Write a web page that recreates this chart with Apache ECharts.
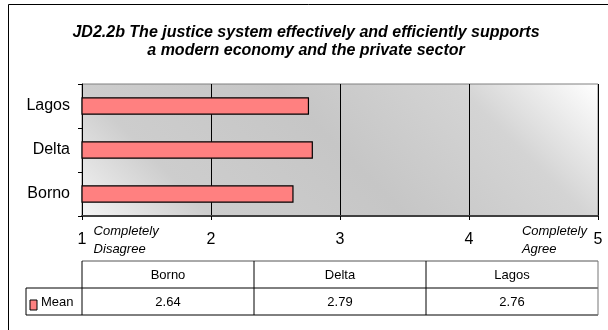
<!DOCTYPE html>
<html><head><meta charset="utf-8">
<script src="https://cdn.jsdelivr.net/npm/echarts@6/dist/echarts.min.js"></script>
<style>html,body{margin:0;padding:0;background:#fff}#c{width:608px;height:330px}</style>
</head><body><div id="c"></div>
<script>
const titleText = 'JD2.2b The justice system effectively and efficiently supports\na modern economy and the private sector';
const categories = ['Borno', 'Delta', 'Lagos'];
const seriesName = 'Mean';
const meanValues = [2.64, 2.79, 2.76];
const xTicks = [1, 2, 3, 4, 5];
const scaleEnds = ['Completely\nDisagree', 'Completely\nAgree'];

const chart = echarts.init(document.getElementById('c'), null, {renderer: 'canvas'});
const F = '"Liberation Sans", Arial, sans-serif';
const G = {left: 82, right: 10, top: 84, bottom: 114};
const option = {
  animation: false,
  backgroundColor: '#fff',
  title: {
    text: titleText, left: 301, top: 19, textAlign: 'center',
    textStyle: {fontFamily: F, fontSize: 16, fontWeight: 'bold', fontStyle: 'italic', color: '#000', lineHeight: 18}
  },
  grid: {
    left: G.left, right: G.right, top: G.top, bottom: G.bottom, show: true,
    borderColor: '#808080', borderWidth: 1,
    backgroundColor: new echarts.graphic.LinearGradient(82, 216, 406, -108, [
      {offset: 0, color: '#f4f4f4'}, {offset: 0.2, color: '#cdcdcd'}, {offset: 0.5, color: '#c6c6c6'},
      {offset: 0.78, color: '#d4d4d4'}, {offset: 1, color: '#ffffff'}
    ], true)
  },
  xAxis: {
    type: 'value', min: 1, max: 5, interval: 1,
    axisLine: {show: true, lineStyle: {color: '#404040', width: 2}},
    axisTick: {show: true, length: 4, lineStyle: {color: '#000'}},
    axisLabel: {fontFamily: F, fontSize: 16, color: '#000', margin: 16,
      formatter: v => xTicks.includes(v) ? String(v) : ''},
    splitLine: {show: true, lineStyle: {color: '#000', width: 1}}
  },
  yAxis: {
    type: 'category', data: categories,
    axisLine: {show: true, lineStyle: {color: '#000'}},
    axisTick: {show: true, length: 4, lineStyle: {color: '#000'}},
    axisLabel: {fontFamily: F, fontSize: 16, color: '#000', margin: 12}
  },
  series: [{
    name: seriesName, type: 'bar', data: meanValues, barWidth: '40%',
    itemStyle: {color: '#ff8080', borderColor: '#000', borderWidth: 1.2}
  }]
};
chart.setOption(option);

// table and scale-end labels
const els = [];
const p1 = chart.convertToPixel({xAxisIndex: 0}, xTicks[0]);
const p5 = chart.convertToPixel({xAxisIndex: 0}, xTicks[xTicks.length - 1]);
const endX = [chart.convertToPixel({xAxisIndex: 0}, 1.09), chart.convertToPixel({xAxisIndex: 0}, 4.41)];
scaleEnds.forEach((t, i) => {
  els.push({type: 'text', left: endX[i], top: 222, style: {text: t, font: 'italic 13px ' + F, fill: '#000', lineHeight: 18}});
});
const colW = (p5 - p1) / categories.length;
const r0 = 261, r1 = 288, r2 = 315, legL = 26;
const ln = (x1, y1, x2, y2, c) => els.push({type: 'line', shape: {x1, y1, x2, y2}, style: {stroke: c || '#000', lineWidth: 1}});
ln(p1, r0, p5, r0, '#555');
ln(legL, r1, p5, r1);
ln(legL, r2, p5, r2);
ln(legL, r1, legL, r2);
for (let i = 0; i <= categories.length; i++) {
  const x = p1 + i * colW;
  ln(x, r0, x, r2, i === categories.length ? '#777' : '#000');
}
categories.forEach((c, i) => {
  const cx = p1 + (i + 0.5) * colW;
  els.push({type: 'text', x: cx, y: (r0 + r1) / 2 + 1, style: {text: c, font: '13px ' + F, fill: '#000', textAlign: 'center', textVerticalAlign: 'middle'}});
  els.push({type: 'text', x: cx, y: (r1 + r2) / 2 + 1, style: {text: meanValues[i].toFixed(2), font: '13px ' + F, fill: '#000', textAlign: 'center', textVerticalAlign: 'middle'}});
});
els.push({type: 'rect', shape: {x: 30, y: 300, width: 7, height: 10}, style: {fill: '#ff8080', stroke: '#000', lineWidth: 1}});
els.push({type: 'text', x: 41, y: (r1 + r2) / 2 + 1, style: {text: seriesName, font: '13px ' + F, fill: '#000', textVerticalAlign: 'middle'}});
// outer frame
els.push({type: 'rect', shape: {x: 8.5, y: 4.5, width: 620, height: 340}, style: {fill: null, stroke: '#000', lineWidth: 1}});
chart.setOption({graphic: {elements: els}});
</script></body></html>
